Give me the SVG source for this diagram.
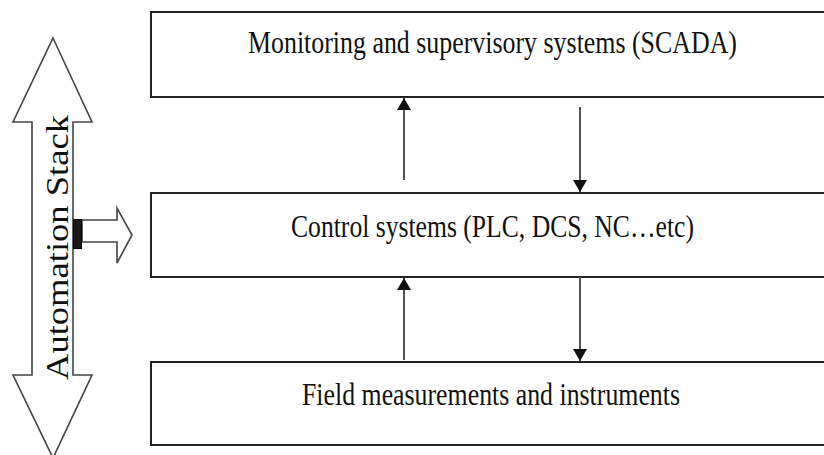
<svg xmlns="http://www.w3.org/2000/svg" width="824" height="455" viewBox="0 0 824 455">
<defs>
<style>
.box{fill:#fff;stroke:#222;stroke-width:2}
.lbl{font-size:31px;fill:#111}
.conn{stroke:#555;stroke-width:2;fill:none}
.fat{fill:#fff;stroke:#444;stroke-width:1.6;stroke-linejoin:miter}
</style>
<marker id="ah" viewBox="0 0 12 14" refX="12" refY="7" markerWidth="12" markerHeight="14" markerUnits="userSpaceOnUse" orient="auto">
<path d="M0,0 L12,7 L0,14 Z" fill="#111"/>
</marker>
</defs>
<rect width="824" height="455" fill="#fff"/>
<g id="stack">
<polygon class="fat" points="53,38 92,122 73,122 73,375 92,375 53,458 13,375 32,375 32,122 13,122"/>
<text class="lbl" font-family="Liberation Serif" transform="translate(68,380) rotate(-90)" textLength="265" lengthAdjust="spacingAndGlyphs">Automation Stack</text>
</g>
<g id="pointer">
<polygon class="fat" points="82,220 117,220 117,208 132,235 117,263 117,242 82,242"/>
<rect x="73.5" y="219.5" width="8" height="29" fill="#1a1a1a" stroke="#000" stroke-width="1"/>
</g>
<g id="scada">
<rect class="box" x="151" y="12" width="676" height="85"/>
<text class="lbl" font-family="Liberation Serif" x="248" y="53" textLength="489" lengthAdjust="spacingAndGlyphs">Monitoring and supervisory systems (SCADA)</text>
</g>
<g id="control">
<rect class="box" x="151" y="193" width="676" height="84"/>
<text class="lbl" font-family="Liberation Serif" x="291" y="237" textLength="403" lengthAdjust="spacingAndGlyphs">Control systems (PLC, DCS, NC…etc)</text>
</g>
<g id="field">
<rect class="box" x="151" y="362" width="676" height="83"/>
<text class="lbl" font-family="Liberation Serif" x="302" y="405" textLength="378" lengthAdjust="spacingAndGlyphs">Field measurements and instruments</text>
</g>
<g id="connectors">
<line class="conn" x1="404" y1="180" x2="404" y2="98" marker-end="url(#ah)"/>
<line class="conn" x1="580" y1="107" x2="580" y2="192" marker-end="url(#ah)"/>
<line class="conn" x1="404" y1="360" x2="404" y2="278" marker-end="url(#ah)"/>
<line class="conn" x1="580" y1="277" x2="580" y2="361" marker-end="url(#ah)"/>
</g>
</svg>
